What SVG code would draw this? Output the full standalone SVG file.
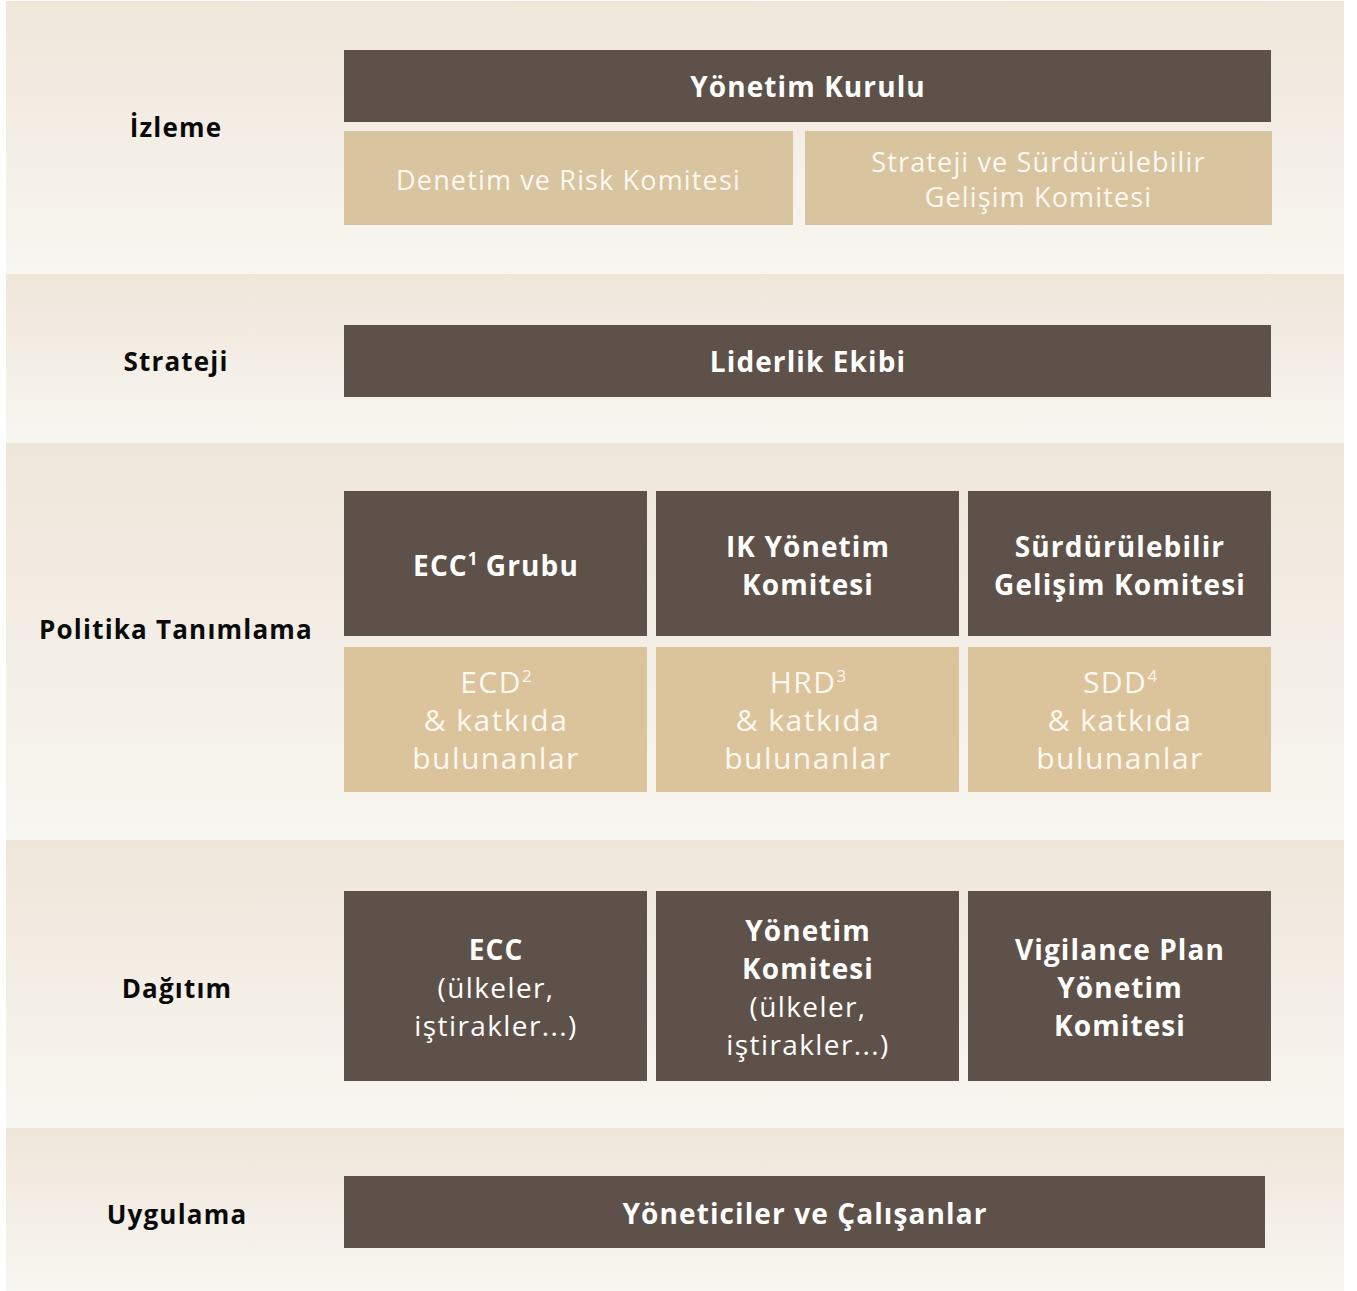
<svg xmlns="http://www.w3.org/2000/svg" width="1357" height="1291" viewBox="0 0 1357 1291">
<defs>
<linearGradient id="band" x1="0" y1="0" x2="0" y2="1">
<stop offset="0" stop-color="#EFE6DA"/>
<stop offset="1" stop-color="#F8F6F1"/>
</linearGradient>
<style>
.dark{fill:#5E5149}
.tan{fill:#D9C4A0}
.tan2{fill:#DBC39C}
.lbl{font-family:"Open Sans",Lato,sans-serif;font-weight:700;font-size:26px;fill:#0A0A0A;text-anchor:middle;letter-spacing:1.2px}
.hd{font-family:"Open Sans",Lato,sans-serif;font-weight:700;font-size:28px;fill:#FFFFFF;text-anchor:middle;letter-spacing:1.1px}
.lt{font-family:"Open Sans",Lato,sans-serif;font-weight:400;font-size:27px;fill:#FDF8F0;text-anchor:middle;letter-spacing:1.15px}
.lt2{font-family:"Open Sans",Lato,sans-serif;font-weight:400;font-size:30px;fill:#FDF8F0;text-anchor:middle;letter-spacing:1.5px}
.rg{font-family:"Open Sans",Lato,sans-serif;font-weight:400;font-size:28px;fill:#FFFFFF;text-anchor:middle;letter-spacing:1.4px}
.sup{font-size:17px;letter-spacing:0}
</style>
</defs>
<rect width="1357" height="1291" fill="#FFFFFF"/>
<g id="bands">
<rect x="6" y="1" width="1338" height="273" fill="url(#band)"/>
<rect x="6" y="274" width="1338" height="169" fill="url(#band)"/>
<rect x="6" y="443" width="1338" height="397" fill="url(#band)"/>
<rect x="6" y="840" width="1338" height="288" fill="url(#band)"/>
<rect x="6" y="1128" width="1338" height="163" fill="url(#band)"/>
</g>
<g id="labels">
<text class="lbl" x="176" y="137">İzleme</text>
<text class="lbl" x="176" y="371">Strateji</text>
<text class="lbl" x="176" y="639">Politika Tanımlama</text>
<text class="lbl" x="177" y="998">Dağıtım</text>
<text class="lbl" x="177" y="1224">Uygulama</text>
</g>
<g id="node-yonetim-kurulu">
<rect class="dark" x="344" y="50" width="927" height="72"/>
<text class="hd" x="808" y="97">Yönetim Kurulu</text>
</g>
<g id="node-denetim">
<rect class="tan" x="344" y="131" width="449" height="94"/>
<text class="lt" x="568.5" y="190">Denetim ve Risk Komitesi</text>
</g>
<g id="node-strateji-komitesi">
<rect class="tan" x="805" y="131" width="467" height="94"/>
<text class="lt" x="1038.5" y="172">Strateji ve Sürdürülebilir</text>
<text class="lt" x="1038.5" y="207">Gelişim Komitesi</text>
</g>
<g id="node-liderlik">
<rect class="dark" x="344" y="325" width="927" height="72"/>
<text class="hd" x="808" y="372">Liderlik Ekibi</text>
</g>
<g id="node-ecc-grubu">
<rect class="dark" x="344" y="491" width="303" height="145"/>
<text class="hd" x="496" y="576">ECC<tspan class="sup" dy="-11">1</tspan><tspan dy="11"> Grubu</tspan></text>
</g>
<g id="node-ik">
<rect class="dark" x="656" y="491" width="303" height="145"/>
<text class="hd" x="808" y="557">IK Yönetim</text>
<text class="hd" x="808" y="595">Komitesi</text>
</g>
<g id="node-sdg">
<rect class="dark" x="968" y="491" width="303" height="145"/>
<text class="hd" x="1120" y="557">Sürdürülebilir</text>
<text class="hd" x="1120" y="595">Gelişim Komitesi</text>
</g>
<g id="node-ecd">
<rect class="tan2" x="344" y="647" width="303" height="145"/>
<text class="lt2" x="496" y="693">ECD<tspan class="sup" dy="-11">2</tspan></text>
<text class="lt2" x="496" y="731">&amp; katkıda</text>
<text class="lt2" x="496" y="769">bulunanlar</text>
</g>
<g id="node-hrd">
<rect class="tan2" x="656" y="647" width="303" height="145"/>
<text class="lt2" x="808" y="693">HRD<tspan class="sup" dy="-11">3</tspan></text>
<text class="lt2" x="808" y="731">&amp; katkıda</text>
<text class="lt2" x="808" y="769">bulunanlar</text>
</g>
<g id="node-sdd">
<rect class="tan2" x="968" y="647" width="303" height="145"/>
<text class="lt2" x="1120" y="693">SDD<tspan class="sup" dy="-11">4</tspan></text>
<text class="lt2" x="1120" y="731">&amp; katkıda</text>
<text class="lt2" x="1120" y="769">bulunanlar</text>
</g>
<g id="node-ecc">
<rect class="dark" x="344" y="891" width="303" height="190"/>
<text class="hd" x="496" y="960">ECC</text>
<text class="rg" x="496" y="998">(ülkeler,</text>
<text class="rg" x="496" y="1036">iştirakler...)</text>
</g>
<g id="node-yonetim-komitesi">
<rect class="dark" x="656" y="891" width="303" height="190"/>
<text class="hd" x="808" y="941">Yönetim</text>
<text class="hd" x="808" y="979">Komitesi</text>
<text class="rg" x="808" y="1017">(ülkeler,</text>
<text class="rg" x="808" y="1055">iştirakler...)</text>
</g>
<g id="node-vigilance">
<rect class="dark" x="968" y="891" width="303" height="190"/>
<text class="hd" x="1120" y="960">Vigilance Plan</text>
<text class="hd" x="1120" y="998">Yönetim</text>
<text class="hd" x="1120" y="1036">Komitesi</text>
</g>
<g id="node-yoneticiler">
<rect class="dark" x="344" y="1176" width="921" height="72"/>
<text class="hd" x="805" y="1224">Yöneticiler ve Çalışanlar</text>
</g>
<g id="connectors"/>
</svg>
